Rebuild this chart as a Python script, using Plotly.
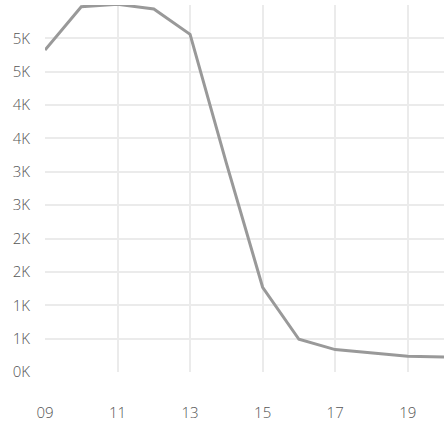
import plotly.graph_objects as go

hours = [9, 10, 11, 12, 13, 14, 15, 16, 17, 18, 19, 20]
values = [4825, 5475, 5510, 5440, 5060, 3130, 1270, 490, 336, 290, 235, 225]

x_tickvals = [9, 11, 13, 15, 17, 19]
x_ticktext = ["09", "11", "13", "15", "17", "19"]
y_tickvals = [0, 500, 1000, 1500, 2000, 2500, 3000, 3500, 4000, 4500, 5000]
y_ticktext = ["0K", "1K", "1K", "2K", "2K", "3K", "3K", "4K", "4K", "5K", "5K"]

fig = go.Figure(data=[go.Scatter(
    x=hours,
    y=values,
    mode="lines",
    line=dict(color="#999999", width=3),
    showlegend=False
)])

fig.update_layout(
    width=446, height=428,
    margin=dict(l=45, r=2, t=5, b=56),
    paper_bgcolor="white", plot_bgcolor="white",
    font=dict(family="Open Sans", size=15, color="#555555", weight=300),
)
fig.update_xaxes(
    range=[9, 20], tickvals=x_tickvals, ticktext=x_ticktext,
    showgrid=True, gridcolor="#ebebeb", gridwidth=1.5,
    zeroline=False, showline=False, ticklabelstandoff=30,
)
fig.update_yaxes(
    range=[0, 5500], tickvals=y_tickvals, ticktext=y_ticktext,
    showgrid=True, gridcolor="#ebebeb", gridwidth=1.5,
    zeroline=False, showline=False, ticklabelstandoff=14,
)

# page body has a default margin, drop it so the chart sits at 0,0
fig.write_html("out.html", config={"displayModeBar": False},
               post_script="document.body.style.margin='0';")
